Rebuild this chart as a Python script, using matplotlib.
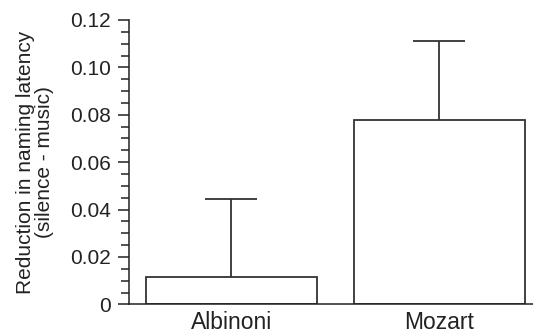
import matplotlib
matplotlib.use("Agg")
import matplotlib.pyplot as plt
from matplotlib.ticker import MultipleLocator

# data
groups = ["Albinoni", "Mozart"]
means = [0.0114, 0.0778]
upper_err = [0.0330, 0.0335]
yticks = [0, 0.02, 0.04, 0.06, 0.08, 0.10, 0.12]
ytick_labels = ["0", "0.02", "0.04", "0.06", "0.08", "0.10", "0.12"]

plt.rcParams['font.family'] = ['Liberation Sans', 'DejaVu Sans']
ink = "#222222"

fig = plt.figure(figsize=(5.33, 3.33), dpi=100)
ax = fig.add_axes([0.242, 0.086, 0.758, 0.854])

x = list(range(len(groups)))
bars = ax.bar(x, means, width=0.82, color="white", edgecolor="#333333", linewidth=1.3,
              yerr=[[0] * len(groups), upper_err],
              error_kw=dict(ecolor="#333333", elinewidth=1.3, capsize=19, capthick=1.3))

# only the upper cap is drawn in the original
caps = bars.errorbar.lines[1]
for cap in caps:
    if list(cap.get_ydata()) == list(means):
        cap.set_visible(False)

ax.set_xlim(-0.493, 1.45)
ax.set_ylim(0, 0.12)
ax.set_yticks(yticks)
ax.set_yticklabels(ytick_labels)
ax.yaxis.set_minor_locator(MultipleLocator(0.005))
ax.set_xticks(x)
ax.set_xticklabels(groups, fontsize=16.5, color=ink)

ax.tick_params(axis='y', which='major', length=8, width=1.1, pad=5,
               labelsize=15, colors=ink)
ax.tick_params(axis='y', which='minor', length=5.8, width=1.1, colors=ink)
ax.tick_params(axis='x', length=0, pad=5)

for side in ["top", "right"]:
    ax.spines[side].set_visible(False)
for side in ["left", "bottom"]:
    ax.spines[side].set_linewidth(1.1)
    ax.spines[side].set_color(ink)

ax.set_ylabel("Reduction in naming latency\n(silence - music)", fontsize=15,
              color=ink, linespacing=1.0, va="center", ha="center")
ax.yaxis.set_label_coords(-0.233, 0.5)

fig.savefig("out.png", dpi=100)
